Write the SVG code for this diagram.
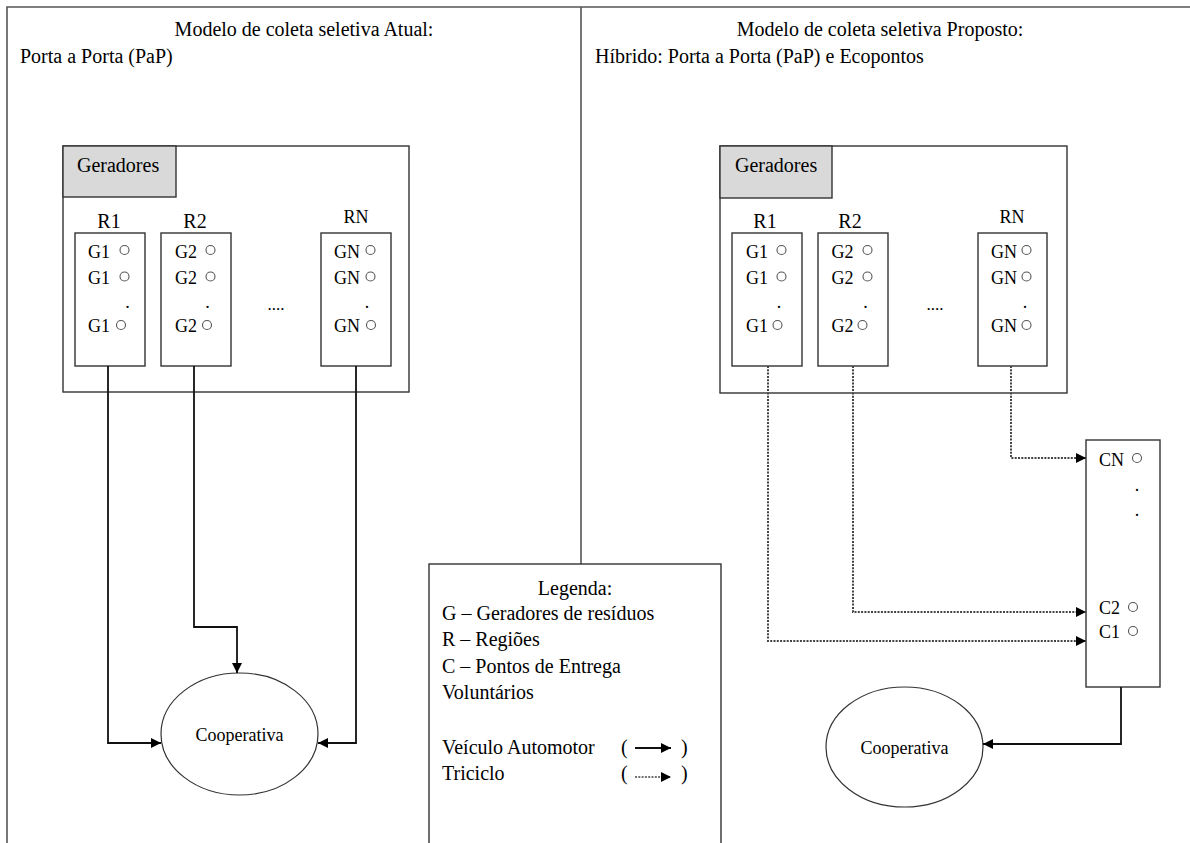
<svg xmlns="http://www.w3.org/2000/svg" width="1190" height="843" viewBox="0 0 1190 843">
<style>
text{font-family:"Liberation Serif","Times New Roman",serif;fill:#000}
.t20{font-size:20px}
.t18{font-size:18px}
.t17{font-size:17px}
.g{font-size:18px}
.box{fill:#fff;stroke:#333;stroke-width:1.4}
.hdr{fill:#d9d9d9;stroke:#333;stroke-width:1.4}
.frame{fill:none;stroke:#555;stroke-width:1.6}
.dot{fill:none;stroke:#555;stroke-width:1.1}
.solid{fill:none;stroke:#111;stroke-width:1.8}
.dotted{fill:none;stroke:#444;stroke-width:2;stroke-dasharray:2 1.3}
.ell{fill:#fff;stroke:#333;stroke-width:1.2}
</style>
<defs>
<marker id="ah" viewBox="0 0 10 10" refX="10" refY="5" markerWidth="10" markerHeight="10" markerUnits="userSpaceOnUse" orient="auto">
<path d="M0,0 L10,5 L0,10 z" fill="#000"/>
</marker>
</defs>
<rect width="1190" height="843" fill="#fff"/>
<g id="frame">
<path class="frame" d="M7,843 V7 H1190"/>
<path class="frame" d="M581,7 V564"/>
</g>
<g id="titles">
<text class="t20" x="304" y="36" text-anchor="middle">Modelo de coleta seletiva Atual:</text>
<text class="t20" x="20" y="63">Porta a Porta (PaP)</text>
<text class="t20" x="880" y="36" text-anchor="middle">Modelo de coleta seletiva Proposto:</text>
<text class="t20" x="595" y="63">Híbrido: Porta a Porta (PaP) e Ecopontos</text>
</g>
<g id="left-geradores">
<rect class="box" x="63" y="146" width="346" height="246"/>
<rect class="hdr" x="63" y="146" width="113" height="51"/>
<text class="t20" x="77" y="172">Geradores</text>
<text class="t20" x="109" y="228" text-anchor="middle">R1</text>
<text class="t20" x="195" y="228" text-anchor="middle">R2</text>
<text class="t18" x="356" y="223" text-anchor="middle">RN</text>
<text class="t17" x="276" y="310" text-anchor="middle">....</text>
</g>
<g id="left-r1">
<rect class="box" x="75" y="233" width="70" height="133"/>
<text class="g" x="88" y="258">G1</text><circle class="dot" cx="124.5" cy="250" r="4.5"/>
<text class="g" x="88" y="284">G1</text><circle class="dot" cx="124.5" cy="276.5" r="4.5"/>
<text class="g" x="127.5" y="308" text-anchor="middle">.</text>
<text class="g" x="88" y="332">G1</text><circle class="dot" cx="121" cy="325" r="4.5"/>
</g>
<g id="left-r2">
<rect class="box" x="161" y="233" width="70" height="133"/>
<text class="g" x="175" y="258">G2</text><circle class="dot" cx="210.5" cy="250" r="4.5"/>
<text class="g" x="175" y="284">G2</text><circle class="dot" cx="210.5" cy="276.5" r="4.5"/>
<text class="g" x="207.5" y="308" text-anchor="middle">.</text>
<text class="g" x="175" y="332">G2</text><circle class="dot" cx="207" cy="325" r="4.5"/>
</g>
<g id="left-rn">
<rect class="box" x="321" y="233" width="70" height="133"/>
<text class="g" x="334" y="258">GN</text><circle class="dot" cx="370.5" cy="250" r="4.5"/>
<text class="g" x="334" y="284">GN</text><circle class="dot" cx="370.5" cy="276.5" r="4.5"/>
<text class="g" x="367" y="308" text-anchor="middle">.</text>
<text class="g" x="334" y="332">GN</text><circle class="dot" cx="371" cy="325" r="4.5"/>
</g>
<g id="left-cooperativa">
<ellipse class="ell" cx="239.5" cy="734" rx="78.5" ry="61"/>
<text class="t18" x="239.5" y="741" text-anchor="middle">Cooperativa</text>
</g>
<g id="right-geradores">
<rect class="box" x="720" y="146" width="347" height="247"/>
<rect class="hdr" x="720" y="146" width="112" height="52"/>
<text class="t20" x="735" y="172">Geradores</text>
<text class="t20" x="765" y="228" text-anchor="middle">R1</text>
<text class="t20" x="850" y="228" text-anchor="middle">R2</text>
<text class="t18" x="1012" y="223" text-anchor="middle">RN</text>
<text class="t17" x="935" y="310" text-anchor="middle">....</text>
</g>
<g id="right-r1">
<rect class="box" x="732" y="233" width="70" height="133"/>
<text class="g" x="746" y="258">G1</text><circle class="dot" cx="781.5" cy="250" r="4.5"/>
<text class="g" x="746" y="284">G1</text><circle class="dot" cx="781.5" cy="276.5" r="4.5"/>
<text class="g" x="779" y="308" text-anchor="middle">.</text>
<text class="g" x="746" y="332">G1</text><circle class="dot" cx="777.5" cy="325" r="4.5"/>
</g>
<g id="right-r2">
<rect class="box" x="818" y="233" width="70" height="133"/>
<text class="g" x="831.5" y="258">G2</text><circle class="dot" cx="867.5" cy="250" r="4.5"/>
<text class="g" x="831.5" y="284">G2</text><circle class="dot" cx="867.5" cy="276.5" r="4.5"/>
<text class="g" x="865.5" y="308" text-anchor="middle">.</text>
<text class="g" x="831.5" y="332">G2</text><circle class="dot" cx="862.5" cy="325" r="4.5"/>
</g>
<g id="right-rn">
<rect class="box" x="978" y="233" width="69" height="133"/>
<text class="g" x="991" y="258">GN</text><circle class="dot" cx="1026.5" cy="250" r="4.5"/>
<text class="g" x="991" y="284">GN</text><circle class="dot" cx="1026.5" cy="276.5" r="4.5"/>
<text class="g" x="1025" y="308" text-anchor="middle">.</text>
<text class="g" x="991" y="332">GN</text><circle class="dot" cx="1026.5" cy="325" r="4.5"/>
</g>
<g id="ecopontos">
<rect class="box" x="1086" y="440" width="74" height="247"/>
<text class="g" x="1099" y="466">CN</text><circle class="dot" cx="1137" cy="458" r="4.5"/>
<text class="g" x="1137" y="491" text-anchor="middle">.</text>
<text class="g" x="1137" y="516" text-anchor="middle">.</text>
<text class="g" x="1099" y="614">C2</text><circle class="dot" cx="1133" cy="607" r="4.5"/>
<text class="g" x="1099" y="638">C1</text><circle class="dot" cx="1133" cy="631" r="4.5"/>
</g>
<g id="right-cooperativa">
<ellipse class="ell" cx="904.5" cy="747" rx="78.5" ry="60"/>
<text class="t18" x="904.5" y="754" text-anchor="middle">Cooperativa</text>
</g>
<g id="legend">
<rect class="box" x="429" y="564" width="292" height="300"/>
<text class="t20" x="575" y="595" text-anchor="middle">Legenda:</text>
<text class="t20" x="442" y="620">G – Geradores de resíduos</text>
<text class="t20" x="442" y="646">R – Regiões</text>
<text class="t20" x="442" y="673">C – Pontos de Entrega</text>
<text class="t20" x="442" y="699">Voluntários</text>
<text class="t20" x="442" y="754">Veículo Automotor</text>
<text class="t20" x="442" y="780">Triciclo</text>
<text class="t20" x="621" y="754">(</text>
<text class="t20" x="681" y="754">)</text>
<text class="t20" x="621" y="780">(</text>
<text class="t20" x="681" y="780">)</text>
<path class="solid" d="M635,748 H671" marker-end="url(#ah)"/>
<path class="dotted" d="M635,777 H671" style="stroke-width:1.6" marker-end="url(#ah)"/>
</g>
<g id="connectors">
<path class="solid" d="M108,366 V743 H161" marker-end="url(#ah)"/>
<path class="solid" d="M194,366 V627 H237 V673" marker-end="url(#ah)"/>
<path class="solid" d="M356,366 V743 H318" marker-end="url(#ah)"/>
<path class="dotted" d="M768,366 V641 H1086" marker-end="url(#ah)"/>
<path class="dotted" d="M853,366 V612 H1086" marker-end="url(#ah)"/>
<path class="dotted" d="M1011,366 V458 H1086" marker-end="url(#ah)"/>
<path class="solid" d="M1121,687 V744 H983" marker-end="url(#ah)"/>
</g>
</svg>
